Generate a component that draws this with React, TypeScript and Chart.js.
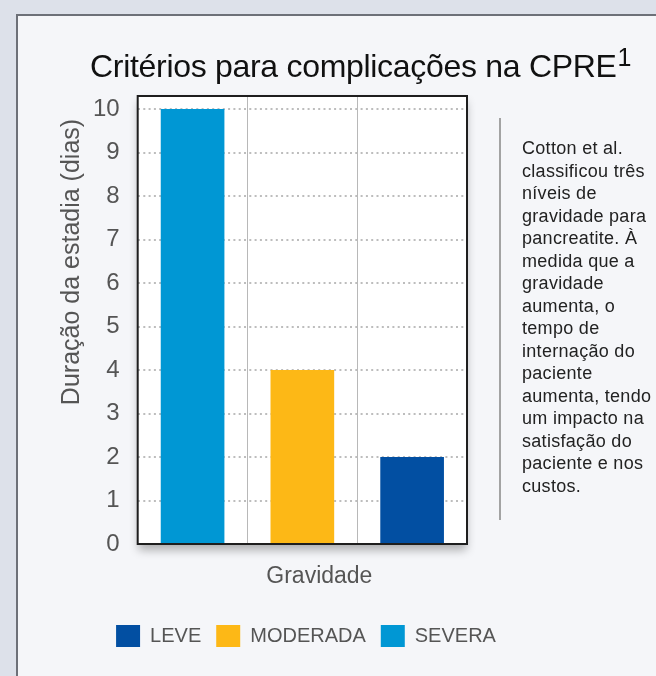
import React, { useEffect, useRef } from "react";
import { Chart, registerables } from "chart.js";

Chart.register(...registerables);

// ---- data ----
const categories = ["SEVERA", "MODERADA", "LEVE"];
const stayDays = [10, 4, 2];
const barColors = ["#0097d4", "#fdb816", "#024fa2"];
const legendOrder = ["LEVE", "MODERADA", "SEVERA"];
const yTickValues = [0, 1, 2, 3, 4, 5, 6, 7, 8, 9, 10];
const yMax = 10.3;

const TITLE = "Critérios para complicações na CPRE";
const TITLE_SUP = "1";
const Y_TITLE = "Duração da estadia (dias)";
const X_TITLE = "Gravidade";
const NOTE_LINES = [
  "Cotton et al.",
  "classificou três",
  "níveis de",
  "gravidade para",
  "pancreatite. À",
  "medida que a",
  "gravidade",
  "aumenta, o",
  "tempo de",
  "internação do",
  "paciente",
  "aumenta, tendo",
  "um impacto na",
  "satisfação do",
  "paciente e nos",
  "custos.",
];

const FONT = "'Liberation Sans', Arial, Helvetica, sans-serif";

export default function App() {
  const ref = useRef<HTMLCanvasElement>(null);

  useEffect(() => {
    document.body.style.margin = "0";
    const canvas = ref.current;
    if (!canvas) return;

    const datasets = legendOrder.map((name) => {
      const idx = categories.indexOf(name);
      return {
        label: name,
        data: categories.map((_, i) => (i === idx ? stayDays[i] : null)),
        backgroundColor: barColors[idx],
        borderWidth: 0,
        grouped: false,
        barPercentage: 0.58,
        categoryPercentage: 1,
      };
    });

    const framePlugin = {
      id: "frame",
      beforeDraw(chart: any) {
        const { ctx, chartArea: a } = chart;
        ctx.save();
        ctx.shadowColor = "rgba(0,0,0,0.3)";
        ctx.shadowBlur = 9;
        ctx.shadowOffsetY = 6;
        ctx.fillStyle = "#ffffff";
        ctx.fillRect(a.left, a.top, a.right - a.left, a.bottom - a.top);
        ctx.restore();
      },
      afterDraw(chart: any) {
        const { ctx, chartArea: a } = chart;
        ctx.save();
        ctx.strokeStyle = "#1e1e1e";
        ctx.lineWidth = 2;
        ctx.strokeRect(a.left, a.top, a.right - a.left, a.bottom - a.top);

        ctx.fillStyle = "#555555";
        ctx.textAlign = "center";
        ctx.textBaseline = "middle";
        ctx.font = `23px ${FONT}`;
        ctx.fillText(X_TITLE, (a.left + a.right) / 2 + 17, a.bottom + 33);

        ctx.translate(a.left - 66, a.top + 166);
        ctx.rotate(-Math.PI / 2);
        ctx.font = `25px ${FONT}`;
        ctx.fillText(Y_TITLE, 0, 0);
        ctx.restore();
      },
    };

    const chart = new Chart(canvas, {
      type: "bar",
      data: { labels: categories, datasets: datasets as any },
      options: {
        responsive: false,
        animation: false,
        layout: { padding: { top: 96, left: 75, right: 0, bottom: 19 } },
        plugins: {
          tooltip: { enabled: false },
          title: { display: false },
          legend: {
            position: "bottom",
            labels: {
              boxWidth: 24,
              boxHeight: 22,
              padding: 15,
              color: "#555555",
              font: { size: 20, family: FONT },
            },
          },
        },
        scales: {
          x: {
            type: "category",
            offset: true,
            grid: {
              display: true,
              offset: true,
              color: "#b8b8b8",
              lineWidth: 1,
              drawTicks: false,
            },
            border: { display: false },
            ticks: { display: false },
            title: { display: false },
            afterFit: (scale: any) => {
              scale.height = 66;
            },
          },
          y: {
            min: 0,
            max: yMax,
            afterBuildTicks: (scale: any) => {
              scale.ticks = yTickValues.map((v) => ({ value: v }));
            },
            ticks: {
              stepSize: 1,
              color: "#555555",
              font: { size: 24, family: FONT },
              padding: 18,
            },
            grid: { color: "#bdbdbd", lineWidth: 2, drawTicks: false },
            border: { display: false, dash: [2, 3.3] },
          },
          spacer: {
            type: "linear",
            position: "right",
            display: true,
            grid: { display: false, drawTicks: false },
            border: { display: false },
            ticks: { display: false },
            afterFit: (scale: any) => {
              scale.width = 70;
            },
          },
        },
      },
      plugins: [framePlugin],
    });

    return () => chart.destroy();
  }, []);

  return (
    <div
      style={{
        position: "relative",
        width: 656,
        height: 676,
        overflow: "hidden",
        background: "#dde1ea",
        fontFamily: FONT,
      }}
    >
      <div
        style={{
          position: "absolute",
          left: 16,
          top: 14,
          width: 700,
          height: 700,
          border: "2px solid #6d7078",
          background: "#f5f6f9",
        }}
      />
      <canvas
        ref={ref}
        width={537}
        height={676}
        style={{ position: "absolute", left: 0, top: 0, width: 537, height: 676 }}
      />
      <div
        style={{
          position: "absolute",
          left: 90,
          top: 50,
          fontSize: 32,
          lineHeight: "33px",
          color: "#111111",
          whiteSpace: "nowrap",
          letterSpacing: "-0.3px",
        }}
      >
        {TITLE}
        <span style={{ fontSize: 25, position: "relative", top: -11, marginLeft: 1 }}>
          {TITLE_SUP}
        </span>
      </div>
      <div
        style={{
          position: "absolute",
          left: 499,
          top: 118,
          width: 2,
          height: 402,
          background: "#a3a3a3",
        }}
      />
      <div
        style={{
          position: "absolute",
          left: 522,
          top: 137,
          fontSize: 18,
          lineHeight: "22.5px",
          letterSpacing: "0.3px",
          color: "#222222",
          whiteSpace: "nowrap",
        }}
      >
        {NOTE_LINES.map((l, i) => (
          <div key={i}>{l}</div>
        ))}
      </div>
    </div>
  );
}
